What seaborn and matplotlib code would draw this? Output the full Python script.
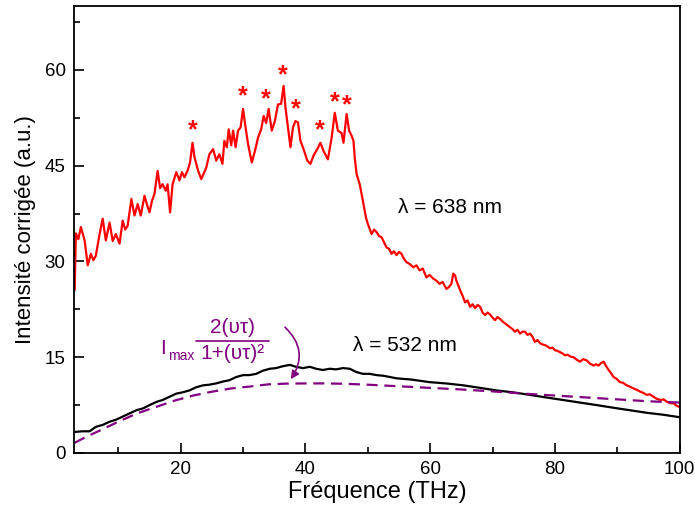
import numpy as np
import matplotlib
matplotlib.use("Agg")
import matplotlib.pyplot as plt
import seaborn as sns
from matplotlib.ticker import MultipleLocator

# Data

# lambda = 638 nm (red)
red_freq = [3.0, 3.2, 3.6, 4.0, 4.6, 5.1, 5.6, 6.0, 6.4, 7.0, 7.5, 8.0, 8.6, 9.1, 9.6,
            10.2, 10.7, 11.1, 11.5, 12.1, 12.6, 13.1, 13.6, 14.2, 14.6, 15.0, 15.4, 15.8,
            16.3, 16.7, 17.1, 17.6, 17.9, 18.3, 18.7, 19.3, 19.8, 20.2, 20.6, 21.1, 21.5,
            21.9, 22.2, 22.8, 23.3, 23.7, 24.1, 24.6, 25.2, 25.7, 26.2, 26.7, 27.0, 27.4,
            27.7, 28.1, 28.4, 28.8, 29.2, 29.6, 30.0, 30.4, 30.8, 31.4, 31.9, 32.4, 32.9,
            33.3, 33.7, 34.1, 34.6, 35.1, 35.6, 36.1, 36.5, 36.8, 37.2, 37.6, 38.0, 38.4,
            38.8, 39.2, 39.7, 40.3, 40.8, 41.3, 41.9, 42.4, 42.9, 43.6, 44.2, 44.7, 45.2,
            45.8, 46.1, 46.6, 47.0, 47.4, 47.7, 47.9, 48.2, 48.7, 49.0, 49.4, 49.7, 50.0,
            50.6, 51.0, 51.4, 51.8, 52.2, 52.6, 53.0, 53.4, 53.8, 54.2, 54.6, 55.0, 55.4,
            55.8, 56.2, 56.7, 57.3, 57.8, 58.3, 58.8, 59.4, 59.9, 60.5, 61.0, 61.5, 62.0,
            62.6, 63.0, 63.4, 63.7, 64.0, 64.2, 64.8, 65.2, 65.6, 66.0, 66.4, 66.8, 67.2,
            67.6, 68.0, 68.4, 68.8, 69.2, 69.6, 70.0, 70.4, 70.8, 71.2, 71.6, 72.0, 72.4,
            72.8, 73.2, 73.6, 74.0, 74.4, 74.8, 75.2, 75.6, 76.0, 76.4, 76.8, 77.2, 77.6,
            78.0, 78.4, 78.8, 79.2, 79.6, 80.0, 80.4, 80.8, 81.2, 81.6, 82.0, 82.5, 83.0,
            83.5, 84.0, 84.5, 85.1, 85.6, 86.2, 86.6, 87.0, 87.4, 87.8, 88.2, 88.6, 89.0,
            89.4, 89.9, 90.4, 90.9, 91.5, 92.0, 92.6, 93.1, 93.7, 94.2, 94.7, 95.2, 95.8,
            96.3, 96.9, 97.4, 98.0, 98.5, 99.0, 99.5, 100.0]
red_int = [25.5, 34.4, 33.5, 35.4, 33.3, 29.4, 31.2, 30.2, 30.9, 34.3, 36.7, 33.3, 36.1, 33.2, 34.3,
           32.8, 36.4, 35.0, 35.6, 39.8, 37.2, 39.0, 37.2, 40.3, 38.9, 37.7, 39.5, 40.6,
           44.2, 41.5, 42.1, 41.1, 42.1, 37.7, 42.1, 44.0, 42.7, 44.0, 43.2, 44.2, 45.5,
           48.6, 46.4, 44.2, 42.9, 43.8, 44.7, 46.8, 47.6, 45.8, 46.8, 45.3, 48.9, 47.9,
           50.7, 48.2, 50.5, 47.9, 50.5, 51.0, 53.9, 51.0, 48.4, 45.5, 47.3, 49.4, 50.7,
           52.8, 51.7, 53.9, 50.5, 52.0, 54.6, 54.7, 57.5, 54.1, 51.0, 47.9, 51.0, 52.0,
           51.8, 48.9, 47.6, 45.8, 45.3, 46.6, 47.6, 48.6, 47.3, 46.0, 49.4, 53.3, 50.5,
           50.1, 48.6, 53.1, 50.5, 49.7, 48.9, 46.3, 43.7, 42.1, 40.6, 38.5, 36.9, 35.9,
           34.3, 35.0, 34.6, 34.0, 33.8, 33.0, 32.2, 32.0, 31.2, 31.6, 31.0, 31.5, 31.2,
           30.4, 29.9, 29.6, 29.1, 29.4, 28.6, 28.9, 27.5, 27.9, 27.3, 27.0, 26.5, 26.8,
           25.7, 26.0, 26.5, 28.1, 27.8, 27.0, 25.5, 24.6, 23.6, 23.9, 22.9, 23.3, 22.7,
           23.2, 22.9, 22.0, 21.6, 22.0, 21.7, 21.2, 20.8, 21.3, 21.0, 20.6, 20.3, 20.0,
           19.7, 19.4, 19.0, 19.3, 18.7, 19.0, 19.0, 18.5, 18.7, 18.2, 17.4, 17.7, 17.2,
           17.0, 16.9, 16.7, 16.4, 16.5, 16.1, 16.0, 15.8, 15.6, 15.3, 15.4, 15.1, 15.0,
           14.6, 14.3, 14.7, 14.5, 14.0, 13.7, 13.9, 13.7, 14.1, 14.3, 13.6, 13.0, 12.5,
           11.9, 11.6, 11.1, 11.0, 10.6, 10.4, 10.1, 9.9, 9.6, 9.4, 9.1, 9.2, 8.8,
           8.5, 8.3, 8.4, 8.0, 7.8, 7.8, 7.4, 7.2]

# lambda = 532 nm (black)
black_freq = [3.0, 4.3, 5.4, 6.4, 7.5, 8.6, 9.6, 10.7, 11.8, 12.9, 14.0, 15.0, 16.1, 17.1,
              18.2, 19.3, 20.3, 21.4, 22.5, 23.6, 24.6, 25.7, 26.8, 27.8, 28.9, 30.0, 31.0,
              32.1, 33.2, 34.3, 35.3, 36.4, 37.5, 38.5, 39.6, 40.7, 41.7, 42.8, 43.9, 44.9,
              46.0, 47.1, 48.1, 49.2, 50.3, 51.4, 52.5, 54.6, 57.0, 59.9, 62.5, 65.3, 68.0,
              70.6, 73.3, 76.0, 78.6, 81.3, 84.0, 86.7, 89.3, 92.0, 94.7, 97.3, 100.0]
black_int = [3.3, 3.4, 3.4, 4.1, 4.4, 4.9, 5.2, 5.7, 6.2, 6.7, 7.0, 7.5, 8.0, 8.3,
             8.8, 9.3, 9.5, 9.8, 10.3, 10.6, 10.7, 10.9, 11.2, 11.4, 11.9, 12.2, 12.2,
             12.4, 12.9, 13.2, 13.3, 13.6, 13.8, 13.5, 13.3, 13.5, 13.2, 13.0, 13.2, 13.1,
             13.3, 13.2, 12.7, 12.4, 12.4, 12.2, 12.1, 11.7, 11.5, 11.1, 10.9, 10.6, 10.2,
             9.8, 9.5, 9.1, 8.7, 8.3, 7.9, 7.5, 7.1, 6.7, 6.3, 6.0, 5.6]

# fit curve (purple dashed)
fit_freq = [3, 5, 7, 10, 13, 16, 19, 22, 25, 28, 31, 34, 37, 40, 43, 46, 50, 55, 60,
            65, 70, 75, 80, 85, 90, 95, 100]
fit_int = [1.6, 2.6, 3.5, 4.9, 6.2, 7.2, 8.2, 9.0, 9.6, 10.1, 10.4, 10.75, 10.87, 10.9,
           10.9, 10.85, 10.7, 10.45, 10.2, 9.95, 9.65, 9.3, 9.0, 8.7, 8.4, 8.1, 7.9]

# peaks marked with asterisks
star_freq = [21.9, 30.0, 33.6, 36.4, 38.4, 42.3, 44.7, 46.7]
star_int = [50.5, 55.9, 55.4, 59.1, 53.9, 50.5, 54.9, 54.5]

PURPLE = '#800080'

sns.set_theme(style="white")
plt.rcParams['font.family'] = ['Liberation Sans', 'DejaVu Sans']

fig = plt.figure(figsize=(6.95, 5.14), dpi=100)
ax = fig.add_axes([0.1065, 0.1187, 0.8715, 0.8693])

sns.lineplot(x=red_freq, y=red_int, color='#ff0000', lw=1.6, estimator=None, ax=ax)
sns.lineplot(x=black_freq, y=black_int, color='black', lw=1.6, estimator=None, ax=ax)
sns.lineplot(x=fit_freq, y=fit_int, color=PURPLE, lw=1.6, estimator=None, ax=ax,
             dashes=False, linestyle=(0, (5, 3)))

for fx, fy in zip(star_freq, star_int):
    ax.text(fx, fy, '*', color='#ff0000', fontsize=18, fontweight='bold',
            ha='center', va='center')

ax.text(54.8, 38.5, 'λ = 638 nm', fontsize=15, va='center', ha='left', color='black')
ax.text(47.6, 16.8, 'λ = 532 nm', fontsize=15, va='center', ha='left', color='black')

# formula I_max * 2(vt) / (1+(vt)^2)
ax.text(16.7, 16.3, 'I', color=PURPLE, fontsize=15, va='center', ha='left')
ax.text(18.0, 15.2, 'max', color=PURPLE, fontsize=10, va='center', ha='left')
ax.text(28.3, 19.6, '2(υτ)', color=PURPLE, fontsize=15, va='center', ha='center')
ax.text(28.3, 15.6, '1+(υτ)²', color=PURPLE, fontsize=15, va='center', ha='center')
ax.plot([22.5, 34.1], [17.6, 17.6], color=PURPLE, lw=1.2)
ax.annotate('', xy=(37.4, 11.2), xytext=(36.4, 20.0),
            arrowprops=dict(arrowstyle='-|>', color=PURPLE, lw=1.2,
                            connectionstyle='arc3,rad=-0.45', mutation_scale=12))

ax.set_xlim(2.9, 100)
ax.set_ylim(0, 70)
ax.xaxis.set_major_locator(MultipleLocator(20))
ax.xaxis.set_minor_locator(MultipleLocator(10))
ax.yaxis.set_major_locator(MultipleLocator(15))
ax.yaxis.set_minor_locator(MultipleLocator(7.5))
ax.tick_params(which='both', direction='in', bottom=True, left=True, top=False, right=False,
               width=1.2, labelsize=13.5, colors='black', pad=6)
ax.tick_params(which='major', length=7)
ax.tick_params(which='minor', length=4)
for sp in ax.spines.values():
    sp.set_color('black')
    sp.set_linewidth(1.3)

ax.set_xlabel('Fréquence (THz)', fontsize=17, color='black', labelpad=2)
ax.set_ylabel('Intensité corrigée (a.u.)', fontsize=16, color='black', labelpad=6)

fig.savefig('out.png', dpi=100)
